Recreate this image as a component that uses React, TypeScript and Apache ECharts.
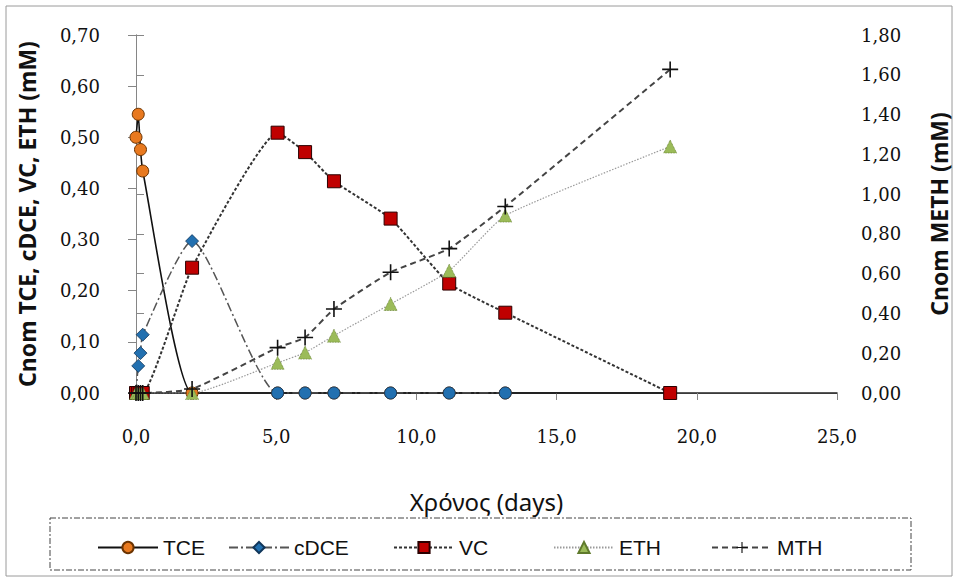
import React, { useEffect, useRef } from "react";
import * as echarts from "echarts";

// Sampling times (days)
const timeDays = [0, 0.08, 0.16, 0.24, 2.0, 5.05, 6.03, 7.06, 9.08, 11.17, 13.17, 19.05];

// Nominal concentrations (mM)
const tceValues = [0.5, 0.545, 0.476, 0.434, 0, 0, 0, 0, 0, 0, 0, 0];
const cdceValues: (number | null)[] = [0, 0.053, 0.078, 0.114, 0.297, 0, 0, 0, 0, 0, 0, null];
const vcValues = [0, 0, 0, 0, 0.245, 0.509, 0.471, 0.414, 0.341, 0.214, 0.157, 0];
const ethValues = [0, 0, 0, 0, 0, 0.059, 0.079, 0.112, 0.174, 0.239, 0.347, 0.482];
// Methane, plotted on the secondary axis
const mthValues = [0, 0, 0, 0, 0.02, 0.228, 0.279, 0.422, 0.607, 0.726, 0.938, 1.627];

const seriesNames = ["TCE", "cDCE", "VC", "ETH", "MTH"];
const legendLeft = [97, 228, 393, 553, 711];

const leftTicks = { min: 0, max: 0.7, interval: 0.1 };
const rightTicks = { min: 0, max: 1.8, interval: 0.2 };
const xTicks = { min: 0, max: 25, interval: 5 };

const FONT = "'Noto Sans', 'Liberation Sans', sans-serif";
const TICK_FONT = "'DejaVu Serif', 'Liberation Serif', serif";
const NARROW = "'Liberation Sans Narrow', 'Liberation Sans', sans-serif";
const AXIS_GREY = "#868686";

const PLUS = "path://M4.5,0H5.5V4.5H10V5.5H5.5V10H4.5V5.5H0V4.5H4.5Z";

function pairs(vals: (number | null)[]) {
  const out: any[] = [];
  vals.forEach((v, i) => {
    if (v !== null) out.push([timeDays[i], v]);
  });
  return out;
}

const comma = (d: number) => (v: number) => v.toFixed(d).replace(".", ",");

export default function App() {
  const ref = useRef<HTMLDivElement>(null);

  useEffect(() => {
    if (!ref.current) return;
    const chart = echarts.init(ref.current, null, { renderer: "svg" });

    // cDCE readings that fell to zero are drawn as blue circles
    const cdceData = pairs(cdceValues).map((p) =>
      p[0] >= 5 ? { value: p, symbol: "circle", symbolSize: 12 } : { value: p }
    );

    const axisLabelStyle = { fontFamily: TICK_FONT, fontSize: 18, color: "#111" };
    const nameStyle = { fontFamily: FONT, fontSize: 23, fontWeight: "bold" as const, color: "#111" };

    chart.setOption({
      animation: false,
      backgroundColor: "#ffffff",
      grid: { left: 136, right: 121, top: 35, bottom: 188, containLabel: false },
      xAxis: [
        {
          type: "value",
          ...xTicks,
          name: "Χρόνος (days)",
          nameLocation: "middle",
          nameGap: 96,
          nameTextStyle: { fontFamily: FONT, fontSize: 24, color: "#111" },
          axisLine: { show: true, lineStyle: { color: AXIS_GREY, width: 1 } },
          axisTick: { show: true, inside: false, length: 7, lineStyle: { color: AXIS_GREY } },
          axisLabel: { ...axisLabelStyle, margin: 34, formatter: comma(1) },
          splitLine: { show: false },
        },
        {
          type: "value",
          position: "top",
          ...xTicks,
          axisLine: { show: true, lineStyle: { color: "#222", width: 1.5 } },
          axisTick: { show: false },
          axisLabel: { show: false },
          splitLine: { show: false },
        },
      ],
      yAxis: [
        {
          type: "value",
          position: "left",
          ...leftTicks,
          name: "Cnom TCE, cDCE, VC, ETH (mM)",
          nameLocation: "middle",
          nameRotate: 90,
          nameGap: 98,
          nameTextStyle: nameStyle,
          axisLine: { show: true, lineStyle: { color: AXIS_GREY, width: 1 } },
          axisTick: { show: true, inside: false, length: 8, lineStyle: { color: AXIS_GREY } },
          axisLabel: { ...axisLabelStyle, margin: 36, formatter: comma(2) },
          splitLine: { show: false },
        },
        {
          type: "value",
          position: "right",
          ...rightTicks,
          name: "Cnom METH (mM)",
          nameLocation: "middle",
          nameRotate: 90,
          nameGap: 90,
          nameTextStyle: nameStyle,
          axisLine: { show: true, lineStyle: { color: AXIS_GREY, width: 1 } },
          axisTick: { show: true, inside: false, length: 8, lineStyle: { color: AXIS_GREY } },
          axisLabel: { ...axisLabelStyle, margin: 24, formatter: comma(2) },
          splitLine: { show: false },
        },
      ],
      legend: seriesNames.map((name, i) => ({
        data: [name],
        left: legendLeft[i],
        top: 537,
        padding: 0,
        itemWidth: 60,
        itemHeight: 14,
        itemGap: 0,
        textStyle: { fontFamily: NARROW, fontSize: 21, color: "#111" },
      })),
      graphic: [
        {
          type: "rect",
          shape: { x: 6, y: 6, width: 946, height: 570 },
          style: { fill: "none", stroke: "#9a9a9a", lineWidth: 1 },
          silent: true,
          z: -10,
        },
        {
          type: "rect",
          shape: { x: 50, y: 518, width: 861, height: 52 },
          style: { fill: "none", stroke: "#444", lineWidth: 1, lineDash: [6, 2, 2, 2] },
          silent: true,
        },
      ],
      series: [
        {
          name: "TCE",
          type: "line",
          xAxisIndex: 0,
          yAxisIndex: 0,
          data: pairs(tceValues),
          smooth: 0.15,
          symbol: "circle",
          symbolSize: 12,
          lineStyle: { color: "#111", width: 1.6, type: "solid" },
          itemStyle: { color: "#E8791F", borderColor: "#6b3300", borderWidth: 1 },
        },
        {
          name: "cDCE",
          type: "line",
          xAxisIndex: 0,
          yAxisIndex: 0,
          data: cdceData,
          smooth: 0.2,
          symbol: "diamond",
          symbolSize: 13,
          lineStyle: { color: "#555", width: 1.5, type: [9, 3, 2, 3] },
          itemStyle: { color: "#2270B0", borderColor: "#10365a", borderWidth: 0.8 },
        },
        {
          name: "VC",
          type: "line",
          xAxisIndex: 0,
          yAxisIndex: 0,
          data: pairs(vcValues),
          smooth: 0.15,
          symbol: "rect",
          symbolSize: 13,
          lineStyle: { color: "#333", width: 2, type: [3, 2] },
          itemStyle: { color: "#C00000", borderColor: "#2a0000", borderWidth: 1 },
        },
        {
          name: "ETH",
          type: "line",
          xAxisIndex: 0,
          yAxisIndex: 0,
          data: pairs(ethValues),
          smooth: 0.15,
          symbol: "triangle",
          symbolSize: 13,
          lineStyle: { color: "#9a9a9a", width: 1.2, type: [1.5, 1.5] },
          itemStyle: { color: "#9BBB59", borderColor: "#5f7a2c", borderWidth: 0.8, borderType: "dotted" },
        },
        {
          name: "MTH",
          type: "line",
          xAxisIndex: 0,
          yAxisIndex: 1,
          data: pairs(mthValues),
          smooth: 0.15,
          symbol: PLUS,
          symbolSize: 16,
          lineStyle: { color: "#444", width: 2, type: [6, 4] },
          itemStyle: { color: "#111" },
        },
      ],
    });

    return () => chart.dispose();
  }, []);

  return (
    <div
      ref={ref}
      style={{ position: "fixed", left: 0, top: 0, width: 958, height: 581, background: "#fff" }}
    />
  );
}
